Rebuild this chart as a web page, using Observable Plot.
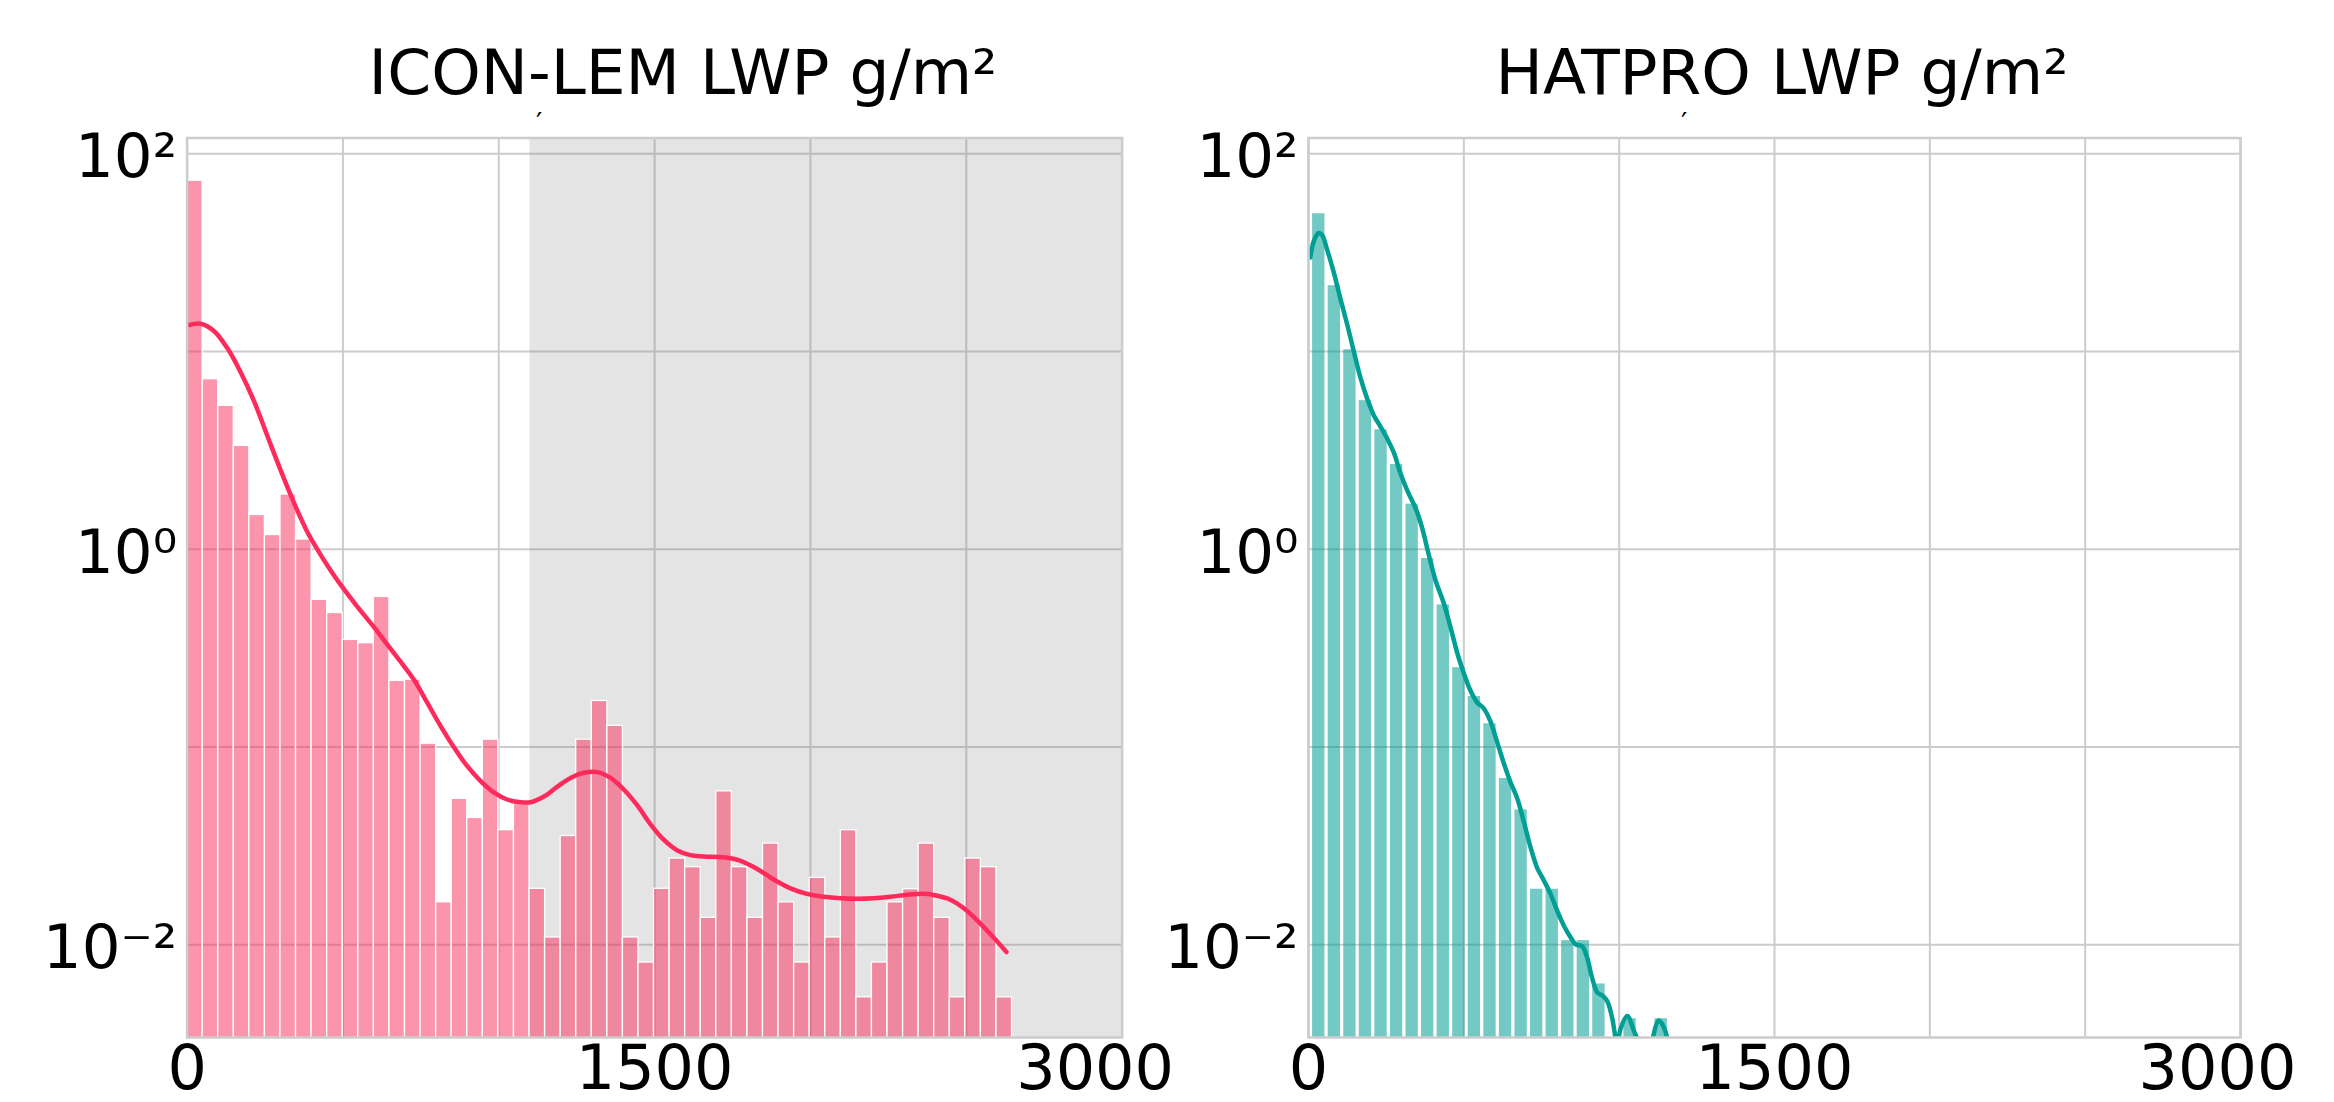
<!DOCTYPE html>
<html><head><meta charset="utf-8">
<script src="https://cdn.jsdelivr.net/npm/d3@7"></script>
<script src="https://cdn.jsdelivr.net/npm/@observablehq/plot@0.6"></script>
<style>
html,body{margin:0;padding:0;background:#fff;}
body{position:relative;width:2334px;height:1102px;overflow:hidden;font-family:"DejaVu Sans",sans-serif;color:#000;}
.title{position:absolute;top:41px;font-size:63px;line-height:63px;white-space:nowrap;transform:translateX(-50%);}
.accent{position:absolute;top:110px;font-size:28px;line-height:28px;}
.chart{position:absolute;top:110px;}
</style></head><body>
<div class="title" style="left:683px">ICON-LEM LWP g/m²</div>
<div class="accent" style="left:536px">′</div>
<div class="title" style="left:1782px">HATPRO LWP g/m²</div>
<div class="accent" style="left:1681px">′</div>
<div class="chart" id="left" style="left:0px"></div>
<div class="chart" id="right" style="left:1167px"></div>
<script>
// ---- data ----
const iconBinStart = 0;
const iconBinWidth = 49.94;
const iconDensity = [73, 7.24, 5.31, 3.33, 1.49, 1.18, 1.89, 1.12, 0.555, 0.476,
  0.348, 0.335, 0.574, 0.216, 0.219, 0.104, 0.0164, 0.0547, 0.0438, 0.109,
  0.038, 0.0515, 0.0192, 0.0109, 0.0355, 0.109, 0.171, 0.128, 0.0109, 0.00814,
  0.0192, 0.0273, 0.0247, 0.0137, 0.0597, 0.0247, 0.0137, 0.0325, 0.0164, 0.00814,
  0.0218, 0.0109, 0.038, 0.00543, 0.00814, 0.0164, 0.0191, 0.0325, 0.0137, 0.00543,
  0.0273, 0.0247, 0.00543];
const iconKdeX = [7, 43, 86, 129, 171, 214, 257, 300, 342, 385, 428, 470, 503, 546, 599, 642, 685, 727, 770, 813,
  856, 899, 941, 984, 1027, 1070, 1102, 1145, 1188, 1230, 1273, 1316, 1359, 1401, 1444, 1487, 1530, 1573, 1615, 1658,
  1722, 1776, 1829, 1882, 1936, 1989, 2043, 2096, 2150, 2203, 2257, 2310, 2364, 2407, 2449, 2492, 2535, 2578, 2629];
const iconKdeY = [13.6, 13.8, 12.7, 10.4, 7.9, 5.64, 3.76, 2.51, 1.73, 1.23, 0.94, 0.743, 0.628, 0.513, 0.405, 0.330, 0.270, 0.220, 0.168, 0.128,
  0.0998, 0.080, 0.0675, 0.059, 0.0543, 0.0526, 0.0526, 0.0562, 0.0631, 0.0698, 0.0741, 0.0747, 0.0698, 0.061, 0.0508, 0.0407, 0.0339, 0.030, 0.0284, 0.028,
  0.0277, 0.0266, 0.0242, 0.0214, 0.0193, 0.0181, 0.0175, 0.0172, 0.0171, 0.0172, 0.0175, 0.0179, 0.0181, 0.0177, 0.0169, 0.0153, 0.0133, 0.0113, 0.0092];

const hatBinStart = 8;
const hatBinWidth = 50.1;
const hatDensity = [49.7, 21.5, 10.2, 5.64, 4.02, 2.68, 1.69, 0.898, 0.523, 0.252,
  0.180, 0.131, 0.0693, 0.0481, 0.0191, 0.0191, 0.0105, 0.0105, 0.00634, 0,
  0.00423, 0, 0.00423];
const hatKdeX = [6, 17, 33, 44, 60, 82, 103, 125, 146, 167, 189, 210, 232, 253, 275, 296, 318, 345, 366, 387,
  409, 436, 457, 479, 500, 522, 543, 564, 586, 608, 629, 650, 672, 693, 715, 736, 758, 779, 801, 822,
  844, 860, 881, 897, 913, 930, 946, 962, 978, 994, 1004, 1026, 1047, 1060, 1083, 1106, 1128, 1144, 1157, 1180];
const hatKdeY = [29.9, 36.1, 39.7, 38.7, 32.7, 24.9, 18.4, 13.6, 10.0, 7.39, 5.76, 4.76, 4.16, 3.63, 3.07, 2.42, 1.98, 1.61, 1.28, 0.94,
  0.695, 0.530, 0.404, 0.298, 0.236, 0.192, 0.168, 0.157, 0.1345, 0.105, 0.0826, 0.0665, 0.055, 0.042, 0.031, 0.0245, 0.0211, 0.0181, 0.0148, 0.0125,
  0.0109, 0.01005, 0.00984, 0.0086, 0.0068, 0.00573, 0.00554, 0.00518, 0.00423, 0.0031, 0.00374, 0.00437, 0.00369, 0.00323, 0.0012, 0.00323, 0.00414, 0.00382, 0.00323, 0.0012];

const shadedRange = [1100, 3000];
const xGridTicks = [0, 500, 1000, 1500, 2000, 2500, 3000];
const xLabelTicks = [0, 1500];
const xLastTick = [3000];
const yGridTicks = [100, 10, 1, 0.1, 0.01];
const yLabelTicks = [100, 1, 0.01];
const yLabelText = ["10²", "10⁰", "10⁻²"];

// ---- tables ----
const bins = (start, w, vals) => vals.map((v, i) => ({x1: start + i * w, x2: start + (i + 1) * w, y: v})).filter(d => d.y > 0);
const curve = (xs, ys) => xs.map((x, i) => ({x, y: ys[i]}));

const yDomain = [0.0034, 120];

function panel(o) {
  return Plot.plot({
    width: 1167, height: 992,
    marginTop: 27.5, marginBottom: 65, marginLeft: o.ml, marginRight: o.mr,
    style: {fontFamily: "DejaVu Sans", color: "#000", background: "transparent", overflow: "visible"},
    x: {domain: [0, 3000], label: null},
    y: {type: "log", domain: yDomain, label: null},
    marks: [
      Plot.gridY(yGridTicks, {stroke: "#cccccc", strokeOpacity: 1, strokeWidth: 2}),
      Plot.gridX(xGridTicks, {stroke: "#cccccc", strokeOpacity: 1, strokeWidth: 2}),
      ...(o.span ? [Plot.rect([o.span], {x1: d => d[0], x2: d => d[1], y1: () => yDomain[0], y2: () => yDomain[1], fill: "#808080", fillOpacity: 0.21})] : []),
      Plot.rect(o.bars, {x1: "x1", x2: "x2", y1: () => 1e-4, y2: "y", fill: o.barFill, fillOpacity: o.barOpacity,
        stroke: o.barStroke, strokeWidth: o.barStrokeWidth, insetLeft: o.inset, insetRight: o.inset, clip: true}),
      Plot.line(o.kde, {x: "x", y: "y", stroke: o.lineColor, strokeWidth: 4.5, curve: "catmull-rom", clip: true}),
      Plot.frame({stroke: "#cccccc", strokeWidth: 2.5}),
      Plot.axisY(yLabelTicks, {label: null, tickFormat: d => yLabelText[yLabelTicks.indexOf(d)], tickSize: 0, tickPadding: 10, fontSize: 61, dy: 4}),
      Plot.axisX(xLabelTicks, {label: null, tickFormat: d => String(d), tickSize: 0, tickPadding: 7, fontSize: 62, dx: o.dx0}),
      Plot.axisX(xLastTick, {label: null, tickFormat: d => String(d), tickSize: 0, tickPadding: 7, fontSize: 62, dx: o.dxLast})
    ]
  });
}

document.getElementById("left").append(panel({
  ml: 186.6, mr: 45.4, span: shadedRange,
  bars: bins(iconBinStart, iconBinWidth, iconDensity),
  kde: curve(iconKdeX, iconKdeY),
  barFill: "#f92b57", barOpacity: 0.5, barStroke: "white", barStrokeWidth: 1.3, inset: 0,
  lineColor: "#ff2a5c", dx0: 0, dxLast: -27
}));
document.getElementById("right").append(panel({
  ml: 141, mr: 94, span: null,
  bars: bins(hatBinStart, hatBinWidth, hatDensity),
  kde: curve(hatKdeX, hatKdeY),
  barFill: "#009e93", barOpacity: 0.55, barStroke: "none", barStrokeWidth: 0, inset: 1.6,
  lineColor: "#009e93", dx0: 0, dxLast: -23
}));
</script>
</body></html>
